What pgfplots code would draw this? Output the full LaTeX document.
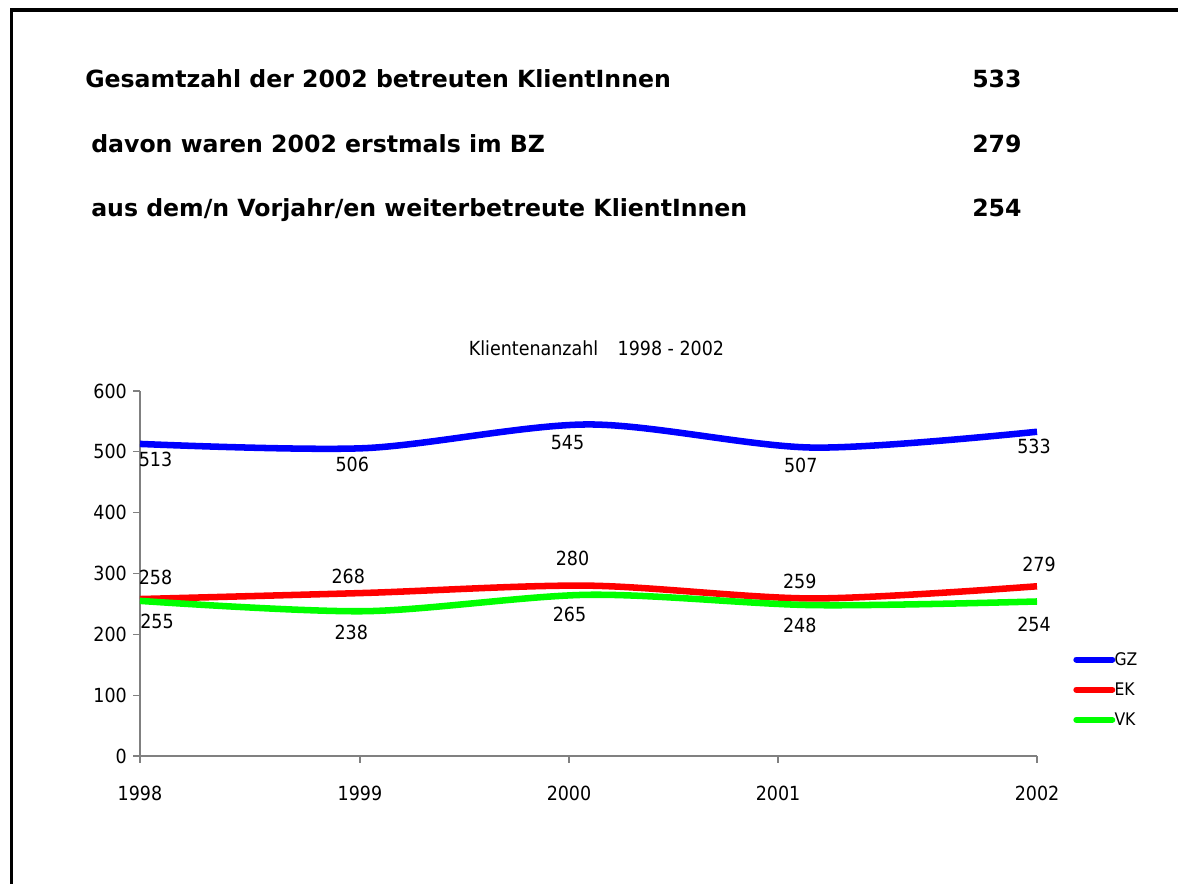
\documentclass[border=0pt]{standalone}
\usepackage{fontspec}
\usepackage{pgfplots}
\pgfplotsset{compat=1.18}
\newfontfamily\cfont{DejaVu Sans Condensed}
\newfontfamily\bfont{DejaVu Sans}
\newcommand\hfont{\bfont\bfseries\fontsize{17bp}{20bp}\selectfont}
\newcommand\tfont{\cfont\fontsize{14bp}{17bp}\selectfont}
\newcommand\lfont{\cfont\fontsize{12.5bp}{15bp}\selectfont}
\definecolor{gz}{RGB}{0,0,255}
\definecolor{ek}{RGB}{255,0,0}
\definecolor{vk}{RGB}{0,255,0}
% one pixel of the reference = 0.72bp
\newcommand\lbl[4]{\node[font=\tfont, inner sep=0pt, xshift={#3*0.72bp}, yshift={#4*0.72bp}] at (axis cs:#1,#2) {#2};}
\begin{document}
\begin{tikzpicture}[x=0.72bp, y=0.72bp]
\path[use as bounding box] (0,0) rectangle (1178,883);
\draw[line width=2.2bp, line join=miter] (11.7,-10) -- (11.7,873) -- (1190,873);

\node[font=\hfont, anchor=base west, inner sep=0pt] at (85,795) {Gesamtzahl der 2002 betreuten KlientInnen};
\node[font=\hfont, anchor=base west, inner sep=0pt] at (91,730) {davon waren 2002 erstmals im BZ};
\node[font=\hfont, anchor=base west, inner sep=0pt] at (91,666) {aus dem/n Vorjahr/en weiterbetreute KlientInnen};
\node[font=\hfont, anchor=base west, inner sep=0pt] at (972,795) {533};
\node[font=\hfont, anchor=base west, inner sep=0pt] at (972,730) {279};
\node[font=\hfont, anchor=base west, inner sep=0pt] at (972,666) {254};

\node[font=\tfont, anchor=base, inner sep=0pt] at (596.5,527) {Klientenanzahl\hspace{14bp}1998 - 2002};

\begin{axis}[
    at={(100.8bp,91.44bp)}, anchor=south west,
    width=645.84bp, height=262.8bp, scale only axis,
    xmin=1998, xmax=2002, ymin=0, ymax=600,
    axis lines*=left,
    axis line style={draw=black!50, line width=1bp},
    tick style={draw=black!50, line width=0.9bp},
    tick align=outside, tick pos=left,
    major tick length=5bp,
    xtick={1998,1998.981,1999.913,2000.845,2002},
    xticklabels={1998,1999,2000,2001,2002},
    ytick={0,100,200,300,400,500,600},
    yticklabels={0,100,200,300,400,500,600},
    xticklabel style={font=\tfont, inner sep=0pt, anchor=north, yshift=-16.5bp},
    yticklabel style={font=\tfont, inner sep=0pt, anchor=east, xshift=-4.3bp},
    clip=false,
    legend style={at={(1.0368,0.2832)}, anchor=north west, draw=none, fill=none,
        inner sep=0pt, outer sep=0pt, font=\lfont, row sep=11.04bp,
        column sep=-2.9bp, nodes={inner sep=0pt}},
    legend cell align=left,
    legend image code/.code={
        \path (0,0) (30.24bp,0);
        \draw[#1, line width=4.3bp, line cap=round] (2.16bp,0.36bp) -- (28.08bp,0.36bp);
    },
]
\addplot[gz, line width=4.7bp, smooth] coordinates {
    (1998,513) (1999,506) (2000,545) (2001,507) (2002,533)
};
\addlegendentry{GZ}
\addplot[ek, line width=4.7bp, smooth] coordinates {
    (1998,258) (1999,268) (2000,280) (2001,259) (2002,279)
};
\addlegendentry{EK}
\addplot[vk, line width=4.7bp, smooth] coordinates {
    (1998,255) (1999,238) (2000,265) (2001,248) (2002,254)
};
\addlegendentry{VK}

\lbl{1998}{513}{15.5}{-16}
\lbl{1999}{506}{-12}{-16}
\lbl{2000}{545}{-21}{-18.5}
\lbl{2001}{507}{-12}{-18}
\lbl{2002}{533}{-3}{-15}

\lbl{1998}{258}{15.5}{22}
\lbl{1999}{268}{-16}{16.5}
\lbl{2000}{280}{-16}{27.7}
\lbl{2001}{259}{-13}{17.5}
\lbl{2002}{279}{2}{22}

\lbl{1998}{255}{17}{-21}
\lbl{1999}{238}{-13}{-21}
\lbl{2000}{265}{-19}{-20}
\lbl{2001}{248}{-13}{-20}
\lbl{2002}{254}{-3}{-22.5}
\end{axis}
\end{tikzpicture}
\end{document}
